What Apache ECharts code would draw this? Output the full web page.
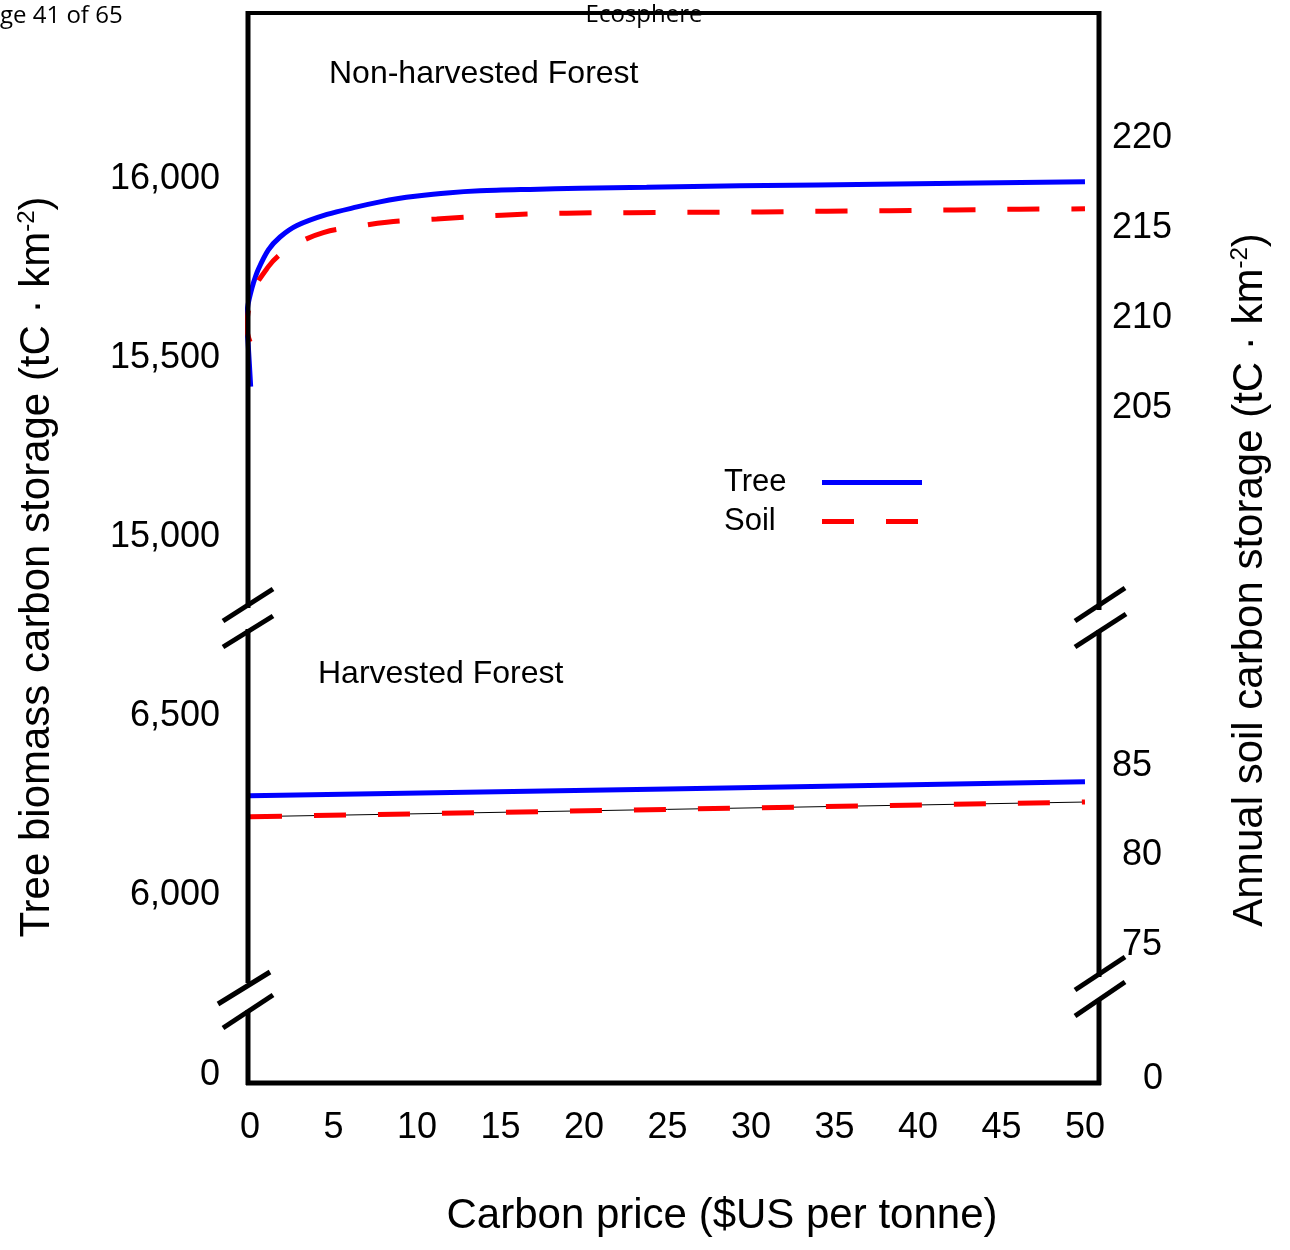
<!DOCTYPE html>
<html>
<head>
<meta charset="utf-8">
<script src="https://cdn.jsdelivr.net/npm/echarts@6/dist/echarts.min.js"></script>
<style>
  html, body { margin: 0; padding: 0; background: #fff; }
  #chart { width: 1290px; height: 1250px; }
</style>
</head>
<body>
<div id="chart"></div>
<script>
// carbon price ticks ($US per tonne)
const priceTicks = [0, 5, 10, 15, 20, 25, 30, 35, 40, 45, 50]
// axis tick labels
const treeTicksTop = [15000, 15500, 16000]
const soilTicksTop = [205, 210, 215, 220]
const treeTicksMid = [6000, 6500]
const soilTicksMid = [75, 80, 85]
const zeroTick = [0]

// Non-harvested forest, tree biomass (left axis)
const nhTreePrice = [0.04, -0.1, -0.2, -0.14, 0.04, 0.2, 0.48, 1.1, 1.8, 2.81, 4.61, 6.41, 7.78, 8.98, 9.76, 11.8, 13.77, 16.77, 19.76, 23.75, 29.34, 38.72, 50]
const nhTree = [15420, 15532, 15606, 15643, 15682, 15709, 15746, 15802, 15838, 15870, 15901, 15922, 15936, 15946, 15951, 15961, 15967, 15971, 15974, 15977, 15981, 15986, 15992]

// Non-harvested forest, annual soil carbon (right axis)
const nhSoilPrice = [0, -0.2, -0.09, 0.1, 1.1, 1.8, 2.65, 4.39, 6.35, 8.19, 11.18, 15.07, 18.96, 22.75, 26.75, 30.64, 34.53, 38.32, 42.22, 46.11, 50]
const nhSoil = [208.67, 209.52, 210.44, 211.37, 212.85, 213.53, 214.06, 214.74, 215.07, 215.32, 215.5, 215.71, 215.82, 215.85, 215.87, 215.89, 215.93, 215.96, 216.0, 216.04, 216.06]

// Harvested forest
const hPrice = [0, 25, 50]
const hTree = [6277, 6296, 6316]
const hSoil = [82.17, 82.58, 82.99]

const FONT = '"Liberation Sans", Arial, Helvetica, sans-serif'
const BLUE = '#0000FF'
const RED = '#FF0000'

const pairs = (xs, ys) => xs.map((x, i) => [x, ys[i]])
const comma = (v) => String(v).replace(/\B(?=(\d{3})+(?!\d))/g, ',')

const chart = echarts.init(document.getElementById('chart'))

const baseX = (gridIndex, showLabel) => ({
  type: 'value',
  gridIndex: gridIndex,
  min: -0.12,
  max: 50.84,
  axisLine: { show: false },
  axisTick: { show: false },
  splitLine: { show: false },
  axisLabel: {
    show: showLabel,
    customValues: priceTicks,
    margin: 27,
    fontSize: 36,
    fontFamily: FONT,
    color: '#000',
  },
})

const baseY = (gridIndex, position, min, max, ticks, margin, extra) => ({
  type: 'value',
  gridIndex: gridIndex,
  position: position,
  min: min,
  max: max,
  axisLine: { show: false },
  axisTick: { show: false },
  splitLine: { show: false },
  axisLabel: Object.assign({
    customValues: ticks,
    margin: margin,
    fontSize: 36,
    fontFamily: FONT,
    color: '#000',
  }, extra || {}),
})

const line = (x1, y1, x2, y2, w) => ({
  type: 'line',
  z: 10,
  shape: { x1: x1, y1: y1, x2: x2, y2: y2 },
  style: { stroke: '#000', lineWidth: w || 5 },
})

const text = (x, y, str, size, opts) => ({
  type: 'text',
  z: 5,
  x: x,
  y: y,
  rotation: (opts && opts.rotation) || 0,
  style: Object.assign({
    text: str,
    fontSize: size,
    fontFamily: FONT,
    fill: '#000',
    align: 'left',
    verticalAlign: 'middle',
  }, (opts && opts.style) || {}),
})

const supRich = {
  sup: { fontSize: 24, fontFamily: FONT, fill: '#000', verticalAlign: 'top', lineHeight: 44 },
}

const option = {
  animation: false,
  backgroundColor: '#fff',
  grid: [
    { left: 248, right: 191, top: 13, height: 596 },
    { left: 248, right: 191, top: 628, height: 357 },
    { left: 248, right: 191, top: 1005, height: 78 },
  ],
  xAxis: [baseX(0, false), baseX(1, false), baseX(2, true)],
  yAxis: [
    baseY(0, 'left', 14798.9, 16463.7, treeTicksTop, 28, { formatter: comma }),
    baseY(0, 'right', 193.83, 226.94, soilTicksTop, 13),
    baseY(1, 'left', 5748.6, 6745.8, treeTicksMid, 28, { formatter: comma }),
    baseY(1, 'right', 72.77, 92.71, soilTicksMid, 13, {
      formatter: (v) => (v === 85 ? '{a|' + v + '}' : '{b|' + v + '}'),
      rich: {
        a: { fontSize: 36, fontFamily: FONT, color: '#000' },
        b: { fontSize: 36, fontFamily: FONT, color: '#000', padding: [0, 0, 0, 10] },
      },
    }),
    baseY(2, 'left', -0.1154, 1, zeroTick, 28),
    baseY(2, 'right', -0.05, 1, zeroTick, 44),
  ],
  legend: {
    orient: 'vertical',
    left: 719,
    top: 462,
    itemWidth: 100,
    itemHeight: 14,
    itemGap: 8,
    selectedMode: false,
    data: ['Tree', 'Soil'],
    align: 'right',
    itemStyle: { opacity: 0 },
    lineStyle: { width: 5 },
    formatter: (name) => '{t|' + name + '}',
    textStyle: {
      fontSize: 31,
      fontFamily: FONT,
      color: '#000',
      rich: {
        t: { fontSize: 31, fontFamily: FONT, color: '#000', width: 93, align: 'left' },
      },
    },
  },
  series: [
    {
      name: 'Tree',
      type: 'line',
      xAxisIndex: 0,
      yAxisIndex: 0,
      data: pairs(nhTreePrice, nhTree),
      showSymbol: false,
      symbol: 'none',
      smooth: 0.3,
      clip: false,
      lineStyle: { color: BLUE, width: 5 },
      itemStyle: { color: BLUE },
    },
    {
      name: 'Tree',
      type: 'line',
      xAxisIndex: 1,
      yAxisIndex: 2,
      data: pairs(hPrice, hTree),
      showSymbol: false,
      symbol: 'none',
      lineStyle: { color: BLUE, width: 5 },
      itemStyle: { color: BLUE },
    },
    {
      name: 'Soil trend',
      type: 'line',
      xAxisIndex: 1,
      yAxisIndex: 3,
      data: pairs(hPrice, hSoil),
      showSymbol: false,
      symbol: 'none',
      lineStyle: { color: '#000', width: 1 },
      z: 1,
    },
    {
      name: 'Soil',
      type: 'line',
      xAxisIndex: 0,
      yAxisIndex: 1,
      data: pairs(nhSoilPrice, nhSoil),
      showSymbol: false,
      symbol: 'none',
      smooth: 0.4,
      clip: false,
      lineStyle: { color: RED, width: 5, type: [32, 32] },
      itemStyle: { color: RED },
    },
    {
      name: 'Soil',
      type: 'line',
      xAxisIndex: 1,
      yAxisIndex: 3,
      data: pairs(hPrice, hSoil),
      showSymbol: false,
      symbol: 'none',
      lineStyle: { color: RED, width: 5, type: [32, 32] },
      itemStyle: { color: RED },
    },
  ],
  graphic: [
    // page header residue
    text(0, 16, 'ge 41 of 65', 24, { style: { fontFamily: '"Open Sans", sans-serif' } }),
    text(644, 15, 'Ecosphere', 24, { style: { fontFamily: '"Open Sans", sans-serif', align: 'center' } }),
    // panel labels
    text(329, 74, 'Non-harvested Forest', 32),
    text(318, 674, 'Harvested Forest', 32),
    // axis titles
    text(722, 1216, 'Carbon price ($US per tonne)', 42, { style: { align: 'center' } }),
    text(37, 567, 'Tree biomass carbon storage (tC · km{sup|-2})', 42, {
      rotation: Math.PI / 2,
      style: { align: 'center', rich: supRich, lineHeight: 44 },
    }),
    text(1250, 580, 'Annual soil carbon storage (tC · km{sup|-2})', 42, {
      rotation: Math.PI / 2,
      style: { align: 'center', rich: supRich, lineHeight: 44 },
    }),
    // frame
    line(246, 13, 1101, 13, 4),
    line(246, 1083, 1101, 1083, 5),
    line(248, 11, 248, 608),
    line(248, 629, 248, 983),
    line(248, 1010, 248, 1085),
    line(1099, 11, 1099, 610),
    line(1099, 630, 1099, 977),
    line(1099, 1000, 1099, 1085),
    // axis break marks
    line(223, 621, 273, 589),
    line(223, 647, 273, 616),
    line(1075, 621, 1125, 588),
    line(1075, 647, 1126, 614),
    line(218, 1004, 270, 972),
    line(223, 1028, 273, 995),
    line(1075, 990, 1125, 957),
    line(1075, 1016, 1125, 982),
  ],
}

chart.setOption(option)
</script>
</body>
</html>
